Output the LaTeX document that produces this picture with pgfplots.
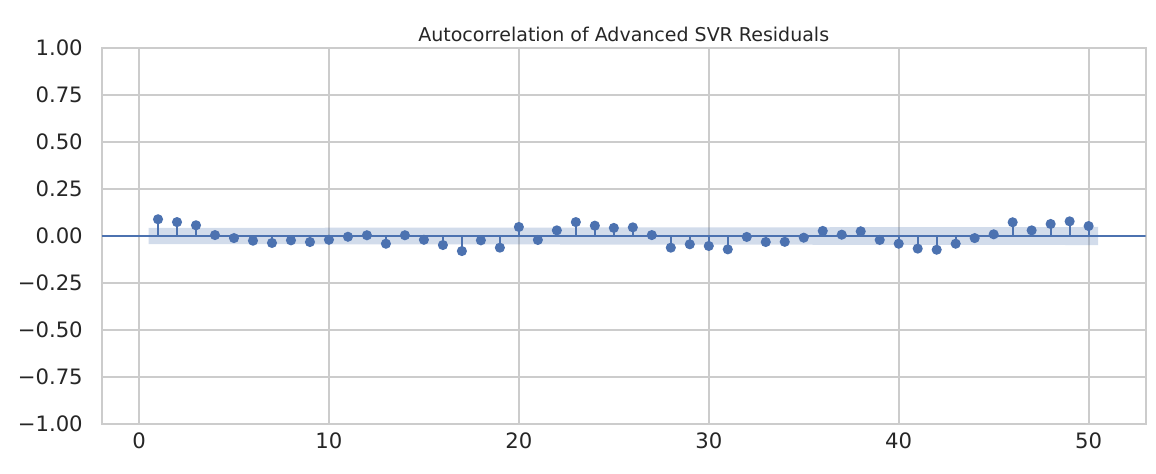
\documentclass[border=0pt]{standalone}
\usepackage{fontspec}
\setmainfont{DejaVu Sans}
\usepackage{pgfplots}
\pgfplotsset{compat=1.18}

\definecolor{sbblue}{HTML}{4C72B0}
\definecolor{gridgray}{HTML}{CCCCCC}
\definecolor{txt}{HTML}{262626}

\begin{document}
\begin{tikzpicture}
\useasboundingbox (-50.9pt,-24.5pt) rectangle (527.1pt,212pt);
\begin{axis}[
    at={(0,0)}, anchor=south west,
    scale only axis,
    width=521.9pt, height=188pt,
    xmin=-1.96, xmax=53.0,
    ymin=-1, ymax=1,
    xtick={0,10,20,30,40,50},
    ytick={-1,-0.75,-0.5,-0.25,0,0.25,0.5,0.75,1},
    yticklabels={−1.00,−0.75,−0.50,−0.25,0.00,0.25,0.50,0.75,1.00},
    xticklabel={\pgfmathprintnumber{\tick}},
    /pgf/number format/assume math mode=true,
    grid=major,
    major grid style={gridgray, line width=0.9pt},
    axis line style={gridgray, line width=1pt},
    major tick length=0pt,
    tick label style={font=\fontsize{10.6}{12}\selectfont, text=txt},
    yticklabel style={xshift=-6pt},
    xticklabel style={yshift=-1pt},
    title={Autocorrelation of Advanced SVR Residuals},
    % default title style already shifts up by 6pt
    title style={at={(0.5,1)}, anchor=base, yshift=-2.5pt, inner sep=0pt,
        font=\fontsize{9.5}{11}\selectfont, text=txt},
]
    % confidence band
    \addplot[draw=none, fill=sbblue, fill opacity=0.25]
        coordinates {(0.5,0.043) (50.5,0.048) (50.5,-0.048) (0.5,-0.043)};

    % zero line
    \addplot[sbblue, line width=1pt] coordinates {(-1.96,0) (53,0)};

    % autocorrelations, lags 1..50
    \addplot[ycomb, sbblue, line width=1pt, mark=*, mark size=2pt,
        mark options={fill=sbblue, draw=sbblue}]
        coordinates {
        (1,0.089) (2,0.074) (3,0.057) (4,0.005) (5,-0.011)
        (6,-0.025) (7,-0.037) (8,-0.023) (9,-0.032) (10,-0.020)
        (11,-0.004) (12,0.004) (13,-0.041) (14,0.004) (15,-0.020)
        (16,-0.048) (17,-0.080) (18,-0.023) (19,-0.062) (20,0.048)
        (21,-0.021) (22,0.030) (23,0.074) (24,0.055) (25,0.043)
        (26,0.046) (27,0.005) (28,-0.062) (29,-0.044) (30,-0.053)
        (31,-0.071) (32,-0.005) (33,-0.032) (34,-0.031) (35,-0.009)
        (36,0.027) (37,0.007) (38,0.025) (39,-0.021) (40,-0.041)
        (41,-0.067) (42,-0.073) (43,-0.041) (44,-0.011) (45,0.009)
        (46,0.073) (47,0.030) (48,0.064) (49,0.078) (50,0.053)
        };
\end{axis}
\end{tikzpicture}
\end{document}
